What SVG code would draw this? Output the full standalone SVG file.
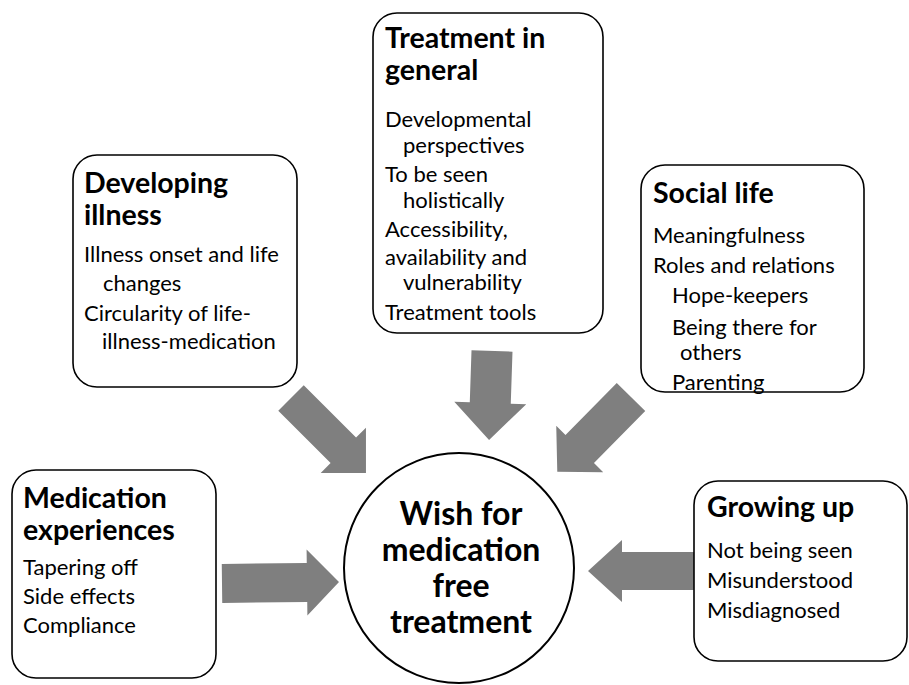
<svg xmlns="http://www.w3.org/2000/svg" width="909" height="685" viewBox="0 0 909 685">
  <style>
    .box { fill: #ffffff; stroke: #000000; stroke-width: 1.6; }
    .hub { fill: #ffffff; stroke: #000000; stroke-width: 2; }
    .arrow { fill: #7f7f7f; stroke: none; }
    text { font-family: Lato, "Noto Sans", "Liberation Sans", sans-serif; fill: #000000; }
    .title { font-size: 28.5px; font-weight: bold; }
    .item { font-size: 22px; }
    .hubtext { font-size: 32px; font-weight: bold; text-anchor: middle; }
  </style>
  <rect width="909" height="685" fill="#ffffff"/>

  <!-- block arrows pointing at the central circle -->
  <g id="connectors">
    <polygon class="arrow" transform="translate(291,398) rotate(45)" points="0,-18 74,-18 74,-32 106,0 74,32 74,18 0,18"/>
    <polygon class="arrow" transform="translate(492,351) rotate(91.9)" points="0,-20.5 52,-20.5 52,-36 89,0 52,36 52,20.5 0,20.5"/>
    <polygon class="arrow" transform="translate(631,397) rotate(134.6)" points="0,-20 73,-20 73,-33 105,0 73,33 73,20 0,20"/>
    <polygon class="arrow" transform="translate(222,583.5) rotate(-0.7)" points="0,-19.5 85,-19.5 85,-33 117,0 85,33 85,19.5 0,19.5"/>
    <polygon class="arrow" transform="translate(696,571) rotate(180)" points="0,-19 74,-19 74,-31 108,0 74,31 74,19 0,19"/>
  </g>

  <g id="developing-illness">
    <rect class="box" x="73" y="155" width="224" height="232" rx="24"/>
    <text class="title" x="84" y="193">Developing</text>
    <text class="title" x="84" y="225">illness</text>
    <text class="item" x="84" y="262">Illness onset and life</text>
    <text class="item" x="103" y="291">changes</text>
    <text class="item" x="84" y="321">Circularity of life-</text>
    <text class="item" x="102" y="349">illness-medication</text>
  </g>

  <g id="treatment-in-general">
    <rect class="box" x="373" y="13" width="230" height="320" rx="24"/>
    <text class="title" x="385" y="48">Treatment in</text>
    <text class="title" x="385" y="80">general</text>
    <text class="item" x="385" y="127">Developmental</text>
    <text class="item" x="403" y="153">perspectives</text>
    <text class="item" x="385" y="182">To be seen</text>
    <text class="item" x="403" y="208">holistically</text>
    <text class="item" x="385" y="237">Accessibility,</text>
    <text class="item" x="385" y="265">availability and</text>
    <text class="item" x="403" y="290">vulnerability</text>
    <text class="item" x="385" y="320">Treatment tools</text>
  </g>

  <g id="social-life">
    <rect class="box" x="641" y="165" width="223" height="227" rx="24"/>
    <text class="title" x="653" y="203">Social life</text>
    <text class="item" x="653" y="243">Meaningfulness</text>
    <text class="item" x="653" y="273">Roles and relations</text>
    <text class="item" x="672" y="303">Hope-keepers</text>
    <text class="item" x="672" y="335">Being there for</text>
    <text class="item" x="680" y="360">others</text>
    <text class="item" x="672" y="390">Parenting</text>
  </g>

  <g id="medication-experiences">
    <rect class="box" x="12" y="470" width="204" height="208" rx="24"/>
    <text class="title" x="23" y="508">Medication</text>
    <text class="title" x="23" y="540">experiences</text>
    <text class="item" x="23" y="575">Tapering off</text>
    <text class="item" x="23" y="604">Side effects</text>
    <text class="item" x="23" y="633">Compliance</text>
  </g>

  <g id="growing-up">
    <rect class="box" x="694" y="481" width="213" height="180" rx="24"/>
    <text class="title" x="707" y="517">Growing up</text>
    <text class="item" x="707" y="558">Not being seen</text>
    <text class="item" x="707" y="588">Misunderstood</text>
    <text class="item" x="707" y="618">Misdiagnosed</text>
  </g>

  <g id="wish-for-medication-free-treatment">
    <circle class="hub" cx="459" cy="568" r="115"/>
    <text class="hubtext" x="461" y="525">Wish for</text>
    <text class="hubtext" x="461" y="561">medication</text>
    <text class="hubtext" x="461" y="597">free</text>
    <text class="hubtext" x="461" y="633">treatment</text>
  </g>
</svg>
